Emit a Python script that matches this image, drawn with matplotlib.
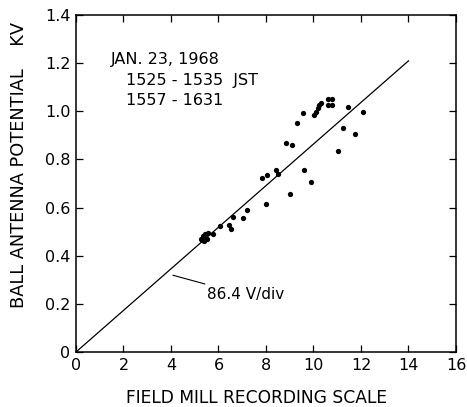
import matplotlib
matplotlib.use("Agg")
import matplotlib.pyplot as plt
import numpy as np

# Data
x_vals = [5.25, 5.3, 5.35, 5.4, 5.45, 5.5, 5.55, 5.77, 6.08, 6.46, 6.54, 6.61,
          7.04, 7.21, 7.85, 8.03, 8.01, 8.41, 8.51, 8.83, 9.11, 9.01, 9.32,
          9.54, 9.6, 9.89, 10.03, 10.1, 10.17, 10.24, 10.31, 10.6, 10.8, 10.6,
          10.8, 11.04, 11.23, 11.44, 11.75, 12.07]
y_vals = [0.47, 0.465, 0.48, 0.46, 0.49, 0.47, 0.495, 0.489, 0.524, 0.527,
          0.509, 0.559, 0.556, 0.589, 0.721, 0.735, 0.614, 0.755, 0.739, 0.869,
          0.862, 0.658, 0.952, 0.991, 0.755, 0.706, 0.984, 0.998, 1.012, 1.025,
          1.035, 1.05, 1.05, 1.025, 1.025, 0.834, 0.932, 1.016, 0.904, 0.998]

slope_kv_per_div = 0.0864
fit_x = [0, 14]
fit_y = [v * slope_kv_per_div for v in fit_x]

x_ticks = [0, 2, 4, 6, 8, 10, 12, 14, 16]
y_ticks = [0, 0.2, 0.4, 0.6, 0.8, 1.0, 1.2, 1.4]
y_tick_labels = ["0", "0.2", "0.4", "0.6", "0.8", "1.0", "1.2", "1.4"]

plt.rcParams['font.family'] = ['DejaVu Sans']

fig = plt.figure(figsize=(4.67, 4.07), dpi=100)
ax = fig.add_axes([0.1627, 0.1351, 0.8137, 0.828])

ax.plot(fit_x, fit_y, color='black', lw=0.9)
ax.plot(x_vals, y_vals, 'o', color='black', ms=3.8, mew=0)

ax.set_xlim(0, 16)
ax.set_ylim(0, 1.4)
ax.set_xticks(x_ticks)
ax.set_xticklabels([str(t) for t in x_ticks])
ax.set_yticks(y_ticks)
ax.set_yticklabels(y_tick_labels)
ax.tick_params(direction='in', top=True, right=True, length=5, width=0.9,
               labelsize=11.5, pad=4)
for s in ax.spines.values():
    s.set_linewidth(1.1)

ax.set_xlabel("FIELD MILL RECORDING SCALE", fontsize=12.3)
ax.set_ylabel("BALL ANTENNA POTENTIAL    KV", fontsize=12.8)
ax.xaxis.set_label_coords(0.475, -0.11)
ax.yaxis.set_label_coords(-0.126, 0.555)

ax.text(1.45, 1.215, "JAN. 23, 1968", fontsize=11.5, va='center', ha='left')
ax.text(2.1, 1.13, "1525 - 1535  JST", fontsize=11.5, va='center', ha='left')
ax.text(2.1, 1.045, "1557 - 1631", fontsize=11.5, va='center', ha='left')

ax.annotate("86.4 V/div", xy=(4.08, 0.319), xytext=(5.5, 0.237),
            fontsize=11, va='center', ha='left',
            arrowprops=dict(arrowstyle='-', color='black', lw=0.8,
                            shrinkA=2, shrinkB=0))

fig.savefig("out.png", dpi=100)
